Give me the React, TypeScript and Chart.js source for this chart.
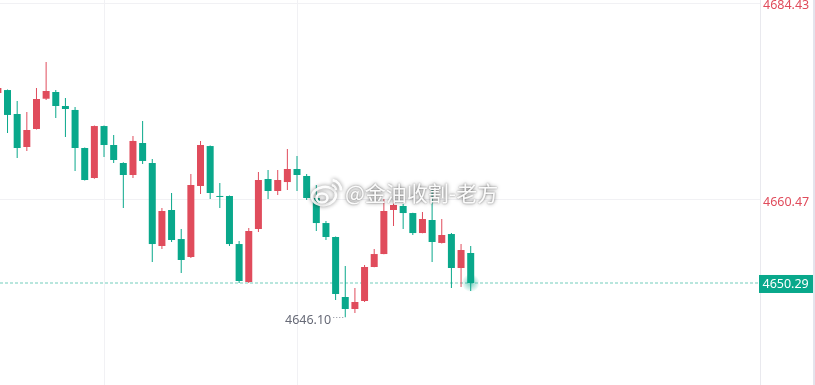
import React, { useEffect, useRef } from "react";
import { Chart, registerables } from "chart.js";

Chart.register(...registerables);

// ---- data ----
const opens = [
  4673.46, 4673.82, 4670.9, 4666.87, 4669.07, 4672.76, 4673.58, 4671.87, 4671.39, 4666.75,
  4663.09, 4669.43, 4667.12, 4664.92, 4663.46, 4667.36, 4664.92, 4654.8, 4659.19, 4655.65,
  4653.46, 4662.12, 4666.99, 4660.9, 4660.9, 4655.04, 4650.41, 4656.87, 4662.97, 4661.51,
  4662.6, 4664.19, 4663.34, 4660.65, 4657.6, 4655.9, 4648.58, 4647.12, 4648.09, 4652.24,
  4653.82, 4659.19, 4659.68, 4658.82, 4656.38, 4657.97, 4655.17, 4656.26, 4652.12, 4653.95,
];
const closes = [
  4674.07, 4670.78, 4666.75, 4668.95, 4672.73, 4673.7, 4671.87, 4671.51, 4666.75, 4662.85,
  4669.43, 4667.12, 4665.29, 4663.46, 4667.61, 4665.17, 4655.04, 4659.07, 4655.53, 4653.09,
  4662.24, 4667.12, 4661.26, 4660.78, 4655.04, 4650.53, 4656.63, 4662.85, 4661.51, 4662.85,
  4664.19, 4663.46, 4660.65, 4657.6, 4655.9, 4648.95, 4647.12, 4647.97, 4652.24, 4653.82,
  4659.07, 4659.8, 4658.82, 4656.38, 4658.09, 4655.29, 4656.14, 4652.12, 4654.31, 4650.29,
];
const highs = [
  4674.31, 4673.9, 4672.48, 4671.14, 4674.07, 4677.24, 4673.82, 4672.85, 4671.75, 4666.8,
  4669.5, 4669.5, 4668.34, 4665.0, 4668.22, 4670.04, 4665.41, 4659.43, 4661.26, 4656.87,
  4663.58, 4667.61, 4667.05, 4662.48, 4660.95, 4655.41, 4656.99, 4663.82, 4664.07, 4664.07,
  4666.63, 4665.78, 4663.58, 4662.24, 4657.85, 4655.95, 4652.36, 4649.68, 4652.48, 4654.43,
  4660.53, 4660.41, 4659.92, 4658.85, 4658.95, 4661.63, 4658.09, 4656.38, 4655.04, 4654.8,
];
const lows = [
  4673.21, 4668.58, 4665.53, 4666.39, 4669.0, 4672.61, 4670.41, 4668.09, 4663.95, 4662.8,
  4663.0, 4665.65, 4664.92, 4659.43, 4663.09, 4664.8, 4652.85, 4654.43, 4655.29, 4651.51,
  4653.34, 4661.14, 4660.53, 4659.43, 4654.8, 4650.29, 4650.29, 4656.51, 4660.53, 4661.02,
  4661.63, 4661.51, 4660.41, 4656.63, 4655.53, 4648.21, 4646.1, 4646.63, 4647.97, 4652.2,
  4653.8, 4657.24, 4656.87, 4656.14, 4656.35, 4652.85, 4655.1, 4649.68, 4649.8, 4649.31,
];
const candleIndex = opens.map((_, i) => i);
const yTickValues = [4684.43, 4660.47, 4636.51];
const xGridTicks = [11, 31];
const lastPrice = 4650.29;
const watermarkText = "@金油收割-老方";

// ---- view window ----
const X_MIN = 0.22;
const X_MAX = 78.98;
const Y_MAX = 4684.8;
const Y_MIN = 4636.02;

const RED = "#e04c5c";
const GREEN = "#09a88b";
const FONT = '"Noto Sans", "Liberation Sans", sans-serif';

export default function App() {
  const ref = useRef<HTMLCanvasElement | null>(null);

  useEffect(() => {
    const canvas = ref.current;
    if (!canvas) return;
    Chart.defaults.font.family = FONT;
    const colors = candleIndex.map((i) => (closes[i] >= opens[i] ? RED : GREEN));

    const overlay = {
      id: "overlay",
      afterDatasetsDraw(chart: any) {
        const { ctx, scales } = chart;
        const xs = scales.x;
        const ys = scales.y;
        // glow on last close
        const li = closes.length - 1;
        const gx = xs.getPixelForValue(li);
        const gy = ys.getPixelForValue(closes[li]);
        const g = ctx.createRadialGradient(gx, gy, 0, gx, gy, 9);
        g.addColorStop(0, "rgba(9,168,139,0.55)");
        g.addColorStop(1, "rgba(9,168,139,0)");
        ctx.save();
        ctx.fillStyle = g;
        ctx.beginPath();
        ctx.arc(gx, gy, 9, 0, Math.PI * 2);
        ctx.fill();
        ctx.restore();

        // lowest low label
        let mi = 0;
        lows.forEach((v, i) => {
          if (v < lows[mi]) mi = i;
        });
        const lx = xs.getPixelForValue(mi);
        const ly = ys.getPixelForValue(lows[mi]);
        ctx.save();
        ctx.strokeStyle = "#8a8d99";
        ctx.lineWidth = 1;
        ctx.setLineDash([1, 2]);
        ctx.beginPath();
        ctx.moveTo(lx - 12, Math.round(ly) + 0.5);
        ctx.lineTo(lx - 1, Math.round(ly) + 0.5);
        ctx.stroke();
        ctx.setLineDash([]);
        ctx.fillStyle = "#676a77";
        ctx.font = `12.5px ${FONT}`;
        ctx.textAlign = "right";
        ctx.textBaseline = "middle";
        ctx.fillText(lows[mi].toFixed(2), lx - 14, ly + 3.5);
        ctx.restore();
      },
      afterDraw(chart: any) {
        const { ctx, scales, chartArea, width } = chart;
        const ys = scales.y;
        const py = ys.getPixelForValue(lastPrice);
        ctx.save();
        ctx.fillStyle = GREEN;
        ctx.fillRect(chartArea.right - 1, py - 8, width - chartArea.right + 1, 18);
        ctx.fillStyle = "#ffffff";
        ctx.font = `12.5px ${FONT}`;
        ctx.textAlign = "left";
        ctx.textBaseline = "middle";
        ctx.fillText(lastPrice.toFixed(2), chartArea.right + 2.5, py + 1.5);
        ctx.restore();

        // watermark
        ctx.save();
        ctx.shadowColor = "rgba(0,0,0,0.5)";
        ctx.shadowBlur = 4;
        ctx.strokeStyle = "rgba(255,255,255,0.95)";
        ctx.fillStyle = "rgba(255,255,255,0.95)";
        ctx.lineWidth = 2.6;
        ctx.beginPath();
        ctx.ellipse(324, 196, 12, 9, -0.15, 0, Math.PI * 2);
        ctx.stroke();
        ctx.beginPath();
        ctx.ellipse(322, 198, 5.5, 4.5, 0, 0, Math.PI * 2);
        ctx.stroke();
        ctx.beginPath();
        ctx.arc(331, 190, 5, -Math.PI * 0.45, 0.05);
        ctx.stroke();
        ctx.beginPath();
        ctx.arc(331, 190, 10, -Math.PI * 0.45, 0.05);
        ctx.stroke();
        ctx.font = '21px "Noto Sans CJK SC", sans-serif';
        ctx.textAlign = "left";
        ctx.textBaseline = "middle";
        ctx.fillText(watermarkText, 345, 193);
        ctx.shadowBlur = 2;
        ctx.fillText(watermarkText, 345, 193);
        ctx.restore();
      },
    };

    const chart = new Chart(canvas, {
      type: "bar",
      data: {
        datasets: [
          {
            type: "line",
            data: [
              { x: X_MIN, y: lastPrice },
              { x: X_MAX, y: lastPrice },
            ],
            borderColor: "rgba(9,168,139,0.38)",
            borderDash: [3, 2],
            borderWidth: 1.5,
            pointRadius: 0,
            order: 3,
          } as any,
          {
            type: "bar",
            data: candleIndex.map((i) => ({ x: i, y: [lows[i], highs[i]] })),
            backgroundColor: colors,
            barThickness: 1,
            grouped: false,
            inflateAmount: 0,
            borderWidth: 0,
            order: 2,
          } as any,
          {
            type: "bar",
            data: candleIndex.map((i) => ({ x: i, y: [opens[i], closes[i]] })),
            backgroundColor: colors,
            barThickness: 7,
            grouped: false,
            inflateAmount: 0,
            borderWidth: 0,
            minBarLength: 1,
            order: 1,
          } as any,
        ],
      },
      options: {
        animation: false,
        responsive: false,
        events: [],
        layout: { padding: 0, autoPadding: false } as any,
        plugins: { legend: { display: false }, tooltip: { enabled: false } },
        scales: {
          x: {
            type: "linear",
            min: X_MIN,
            max: X_MAX,
            offset: false,
            ticks: { display: false },
            grid: { color: "#f1f1f4", drawTicks: false, offset: false },
            border: { display: false },
            afterBuildTicks: (s: any) => {
              s.ticks = xGridTicks.map((v) => ({ value: v }));
            },
          },
          y: {
            type: "linear",
            position: "right",
            min: Y_MIN,
            max: Y_MAX,
            beginAtZero: false,
            grid: { color: "#f1f1f4", drawTicks: false },
            border: { display: true, color: "#e9e9ee" },
            ticks: {
              padding: 3,
              labelOffset: 2.5,
              font: { size: 12.5, family: FONT },
              color: (c: any) => (c.tick && c.tick.value > lastPrice ? RED : GREEN),
              callback: (v: any) => Number(v).toFixed(2),
            },
            afterBuildTicks: (s: any) => {
              s.ticks = yTickValues.map((v) => ({ value: v }));
            },
            afterFit: (s: any) => {
              s.width = 53;
              s.paddingTop = 0;
              s.paddingBottom = 0;
            },
          } as any,
        },
      },
      plugins: [overlay],
    } as any);

    return () => chart.destroy();
  }, []);

  return (
    <div
      style={{
        position: "fixed",
        left: 0,
        top: 0,
        width: 815,
        height: 385,
        overflow: "hidden",
        background: "#e4e4ec",
      }}
    >
      <canvas ref={ref} width={813} height={400} style={{ display: "block", background: "#ffffff" }} />
    </div>
  );
}
